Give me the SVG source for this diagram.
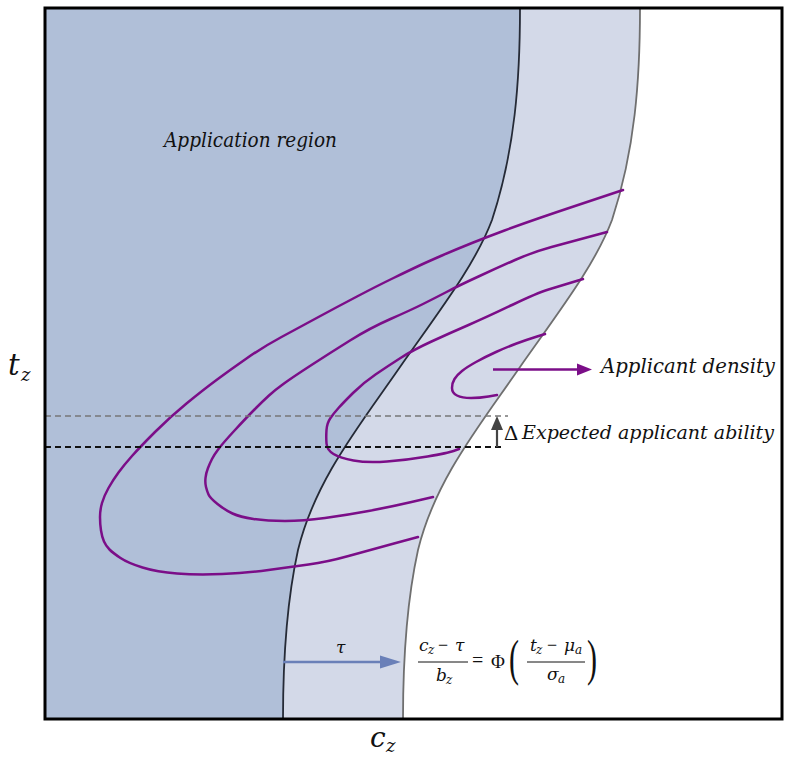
<svg xmlns="http://www.w3.org/2000/svg" width="787" height="766" viewBox="0 0 787 766">
<defs>
<style>
.ct{fill:none;stroke:#7b0e88;stroke-width:2.5;stroke-linejoin:round;stroke-linecap:round}
.mi{font-family:"DejaVu Serif","Liberation Serif",serif;font-style:italic;fill:#111}
.mr{font-family:"DejaVu Serif","Liberation Serif",serif;fill:#111}
.pr{font-family:"Liberation Serif","DejaVu Serif",serif;fill:#111}
</style>
</defs>
<rect width="787" height="766" fill="#fff"/>
<g id="regions">
<path d="M45,8 L640,8 C640,80 635,150 612,220 C595,265 560,310 520,367 C480,425 435,480 418,550 C407,600 403,660 403,719 L45,719 Z" fill="#d3d9e8"/>
<path d="M45,8 L520,8 C520,80 515,150 492,220 C475,265 440,310 400,367 C360,425 315,480 298,550 C287,600 283,660 283,719 L45,719 Z" fill="#b0bfd8"/>
<path d="M640,8 C640,80 635,150 612,220 C595,265 560,310 520,367 C480,425 435,480 418,550 C407,600 403,660 403,719" fill="none" stroke="#6f6f6f" stroke-width="1.8"/>
<path d="M520,8 C520,80 515,150 492,220 C475,265 440,310 400,367 C360,425 315,480 298,550 C287,600 283,660 283,719" fill="none" stroke="#252a36" stroke-width="1.8"/>
</g>
<g id="contours">
<path class="ct" d="M623,190 L606.5,195.5 Q590,201 573.5,206.5 Q557,212 539.5,218 Q522,224 504.5,230.5 Q487,237 472,243 Q457,249 442,255.5 Q427,262 418.5,266 Q410,270 393.5,278 Q377,286 357,296.5 Q337,307 318.5,317 Q300,327 281.5,337 Q263,347 246.5,358.5 Q230,370 216.5,380 Q203,390 186.5,403.5 Q170,417 155,432 Q140,447 132,456 Q124,465 118.5,472.5 Q113,480 108.5,488 Q104,496 102,503 Q100,510 100,517 Q100,524 101,530.5 Q102,537 104,541.5 Q106,546 109.5,549.5 Q113,553 120.5,558 Q128,563 142.5,567.5 Q157,572 177,573.5 Q197,575 222,574 Q247,573 268.5,570 Q290,567 308.5,564.5 Q327,562 348.5,556 Q370,550 394,543.5 L418,537"/>
<path class="ct" d="M607,232 L588.5,237 Q570,242 551.5,247 Q533,252 515,260 Q497,268 478.5,276.5 Q460,285 447.5,291.5 Q435,298 423,304 Q411,310 390.5,319 Q370,328 350,340.5 Q330,353 311.5,365 Q293,377 284,383.5 Q275,390 269,395.5 Q263,401 255,409 Q247,417 235,430 Q223,443 218.5,449 Q214,455 212,459 Q210,463 208,468 Q206,473 205.5,478 Q205,483 206,487 Q207,491 208.5,494.5 Q210,498 217.5,504 Q225,510 232.5,513.5 Q240,517 253.5,519 Q267,521 285,521 Q303,521 325,518 Q347,515 368.5,511 Q390,507 411.5,502 L433,497"/>
<path class="ct" d="M583,279 L571.5,282.5 Q560,286 548.5,289.5 Q537,293 512,305 Q487,317 468.5,325 Q450,333 431.5,341.5 Q413,350 400.5,358 Q388,366 375.5,374.5 Q363,383 353,393 Q343,403 338.5,408 Q334,413 330.5,418 Q327,423 326.5,430 Q326,437 326.5,443.5 Q327,450 333.5,454 Q340,458 353.5,460.5 Q367,463 387,461.5 Q407,460 427.5,456.5 Q448,453 453.5,451 L459,449"/>
<path class="ct" d="M545,334 L535.5,337 Q526,340 516.5,343.5 Q507,347 496,352 Q485,357 476,362 Q467,367 462,371 Q457,375 454.5,379 Q452,383 452,388 Q452,393 457,395.5 Q462,398 471,398 Q480,398 488.5,396.5 L497,395"/>
</g>
<g id="connectors">
<line x1="45" y1="416" x2="508" y2="416" stroke="#777" stroke-width="1.6" stroke-dasharray="6,4"/>
<line x1="45" y1="447" x2="505" y2="447" stroke="#111" stroke-width="2" stroke-dasharray="6,4"/>
<line x1="497" y1="447" x2="497" y2="428" stroke="#444" stroke-width="2.2"/>
<polygon points="497,416 491,430 503,430" fill="#444"/>
<line x1="493" y1="369.5" x2="580" y2="369.5" stroke="#7b0e88" stroke-width="2.5"/>
<polygon points="592,369.5 577,363.5 577,375.5" fill="#7b0e88"/>
<line x1="283" y1="662" x2="386" y2="662" stroke="#6a80b8" stroke-width="2.5"/>
<polygon points="401,662 380,655.5 380,668.5" fill="#6a80b8"/>
</g>
<rect id="frame" x="45" y="8" width="737" height="711" fill="none" stroke="#000" stroke-width="3"/>
<g id="labels">
<text class="mi" x="164" y="147" font-size="21" textLength="173" lengthAdjust="spacingAndGlyphs">Application region</text>
<text class="mi" x="601" y="373" font-size="21" textLength="174" lengthAdjust="spacingAndGlyphs">Applicant density</text>
<text class="pr" x="504" y="440" font-size="22">Δ</text>
<text class="mi" x="522" y="439" font-size="18.5" textLength="252" lengthAdjust="spacingAndGlyphs">Expected applicant ability</text>
<text class="mi" x="8" y="375" font-size="29">t</text>
<text class="mi" x="21" y="381" font-size="18">z</text>
<text class="mi" x="370" y="747" font-size="28">c</text>
<text class="mi" x="386" y="752" font-size="18">z</text>
<text class="mi" x="336" y="653" font-size="17">τ</text>
</g>
<g id="formula">
<text class="mi" x="419" y="651" font-size="17">c</text>
<text class="mi" x="428" y="654" font-size="12">z</text>
<text class="pr" x="438" y="651" font-size="18">−</text>
<text class="mi" x="455" y="651" font-size="17">τ</text>
<line x1="418" y1="662" x2="468" y2="662" stroke="#111" stroke-width="1"/>
<text class="mi" x="436" y="681" font-size="17">b</text>
<text class="mi" x="446" y="684" font-size="12">z</text>
<text class="pr" x="472" y="667" font-size="20">=</text>
<text class="pr" x="491" y="668" font-size="19">Φ</text>
<text class="pr" x="509" y="675" font-size="50" transform="translate(509,675) scale(0.6,1) translate(-509,-675)">(</text>
<text class="mi" x="530" y="651" font-size="17">t</text>
<text class="mi" x="536" y="654" font-size="12">z</text>
<text class="pr" x="547" y="651" font-size="18">−</text>
<text class="mi" x="564" y="651" font-size="17">μ</text>
<text class="mi" x="575" y="654" font-size="12">a</text>
<line x1="527" y1="662" x2="585" y2="662" stroke="#111" stroke-width="1"/>
<text class="mi" x="547" y="680" font-size="17">σ</text>
<text class="mi" x="558" y="683" font-size="12">a</text>
<text class="pr" x="587" y="675" font-size="50" transform="translate(587,675) scale(0.6,1) translate(-587,-675)">)</text>
</g>
</svg>
